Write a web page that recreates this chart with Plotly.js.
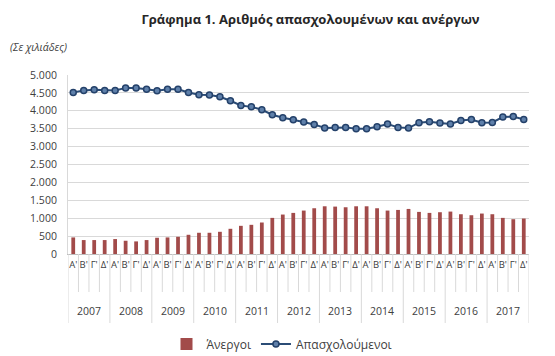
<!DOCTYPE html>
<html>
<head>
<meta charset="utf-8">
<script src="https://cdn.plot.ly/plotly-3.0.1.min.js"></script>
<style>html,body{margin:0;padding:0;background:#fff;}#chart{width:555px;height:356px;}</style>
</head>
<body>
<div id="chart"></div>
<script>
const years = ['2007','2008','2009','2010','2011','2012','2013','2014','2015','2016','2017'];
const quarters = ["Α'","Β'","Γ'","Δ'"];
const employed = [
  4510,4570,4590,4570, 4570,4640,4640,4600, 4560,4600,4600,4510,
  4450,4440,4390,4280, 4150,4110,4030,3890, 3806,3750,3685,3620,
  3519,3537,3537,3500, 3500,3556,3630,3537, 3519,3667,3694,3657,
  3630,3731,3759,3667, 3676,3824,3843,3759
];
const unemployed = [
  463,389,389,389, 417,370,352,389, 454,463,481,537,
  593,593,620,704, 787,815,880,1009, 1102,1148,1213,1278,
  1333,1324,1306,1333, 1333,1278,1213,1231, 1259,1176,1148,1167,
  1185,1111,1083,1130, 1111,1009,972,991
];
const yTicks = [0,500,1000,1500,2000,2500,3000,3500,4000,4500,5000];

// Derived positions (index along the time axis)
const n = years.length * quarters.length;
const xIdx = [], qLabels = [];
years.forEach(() => quarters.forEach(q => { xIdx.push(xIdx.length); qLabels.push(q); }));

const font = "Open Sans, Noto Sans, sans-serif";
const plotH = 356 - 75 - 102;

// boundary ticks and year dividers
const shapes = [];
for (let k = 0; k <= n; k++) {
  const isYear = k % quarters.length === 0;
  shapes.push({
    type: 'line', xref: 'x', yref: 'paper',
    x0: k - 0.5, x1: k - 0.5, y0: 0, y1: -(isYear ? 69 : 38) / plotH,
    line: {color: '#D9D9D9', width: 1}
  });
}
const annotations = years.map((y, i) => ({
  text: y, xref: 'x', yref: 'paper',
  x: i * quarters.length + (quarters.length - 1) / 2, y: -(311 - 254) / plotH,
  xanchor: 'center', yanchor: 'middle', showarrow: false,
  font: {family: font, size: 10.5, color: '#404040'}
}));
annotations.push({
  text: '<i>(Σε χιλιάδες)</i>', xref: 'paper', yref: 'paper',
  x: -60/461, xanchor: 'left', y: 1 + (75 - 47) / plotH, yanchor: 'middle',
  showarrow: false, font: {family: font, size: 10.5, color: '#404040'}
});

const traces = [
  {
    type: 'bar', name: 'Άνεργοι', x: xIdx, y: unemployed,
    marker: {color: '#A24B4A'}, width: 0.36
  },
  {
    type: 'scatter', mode: 'lines+markers', name: 'Απασχολούμενοι', x: xIdx, y: employed,
    line: {color: '#2B4C76', width: 2},
    marker: {symbol: 'circle', size: 6, color: '#5F80AA', line: {color: '#24416A', width: 1.5}}
  }
];

const layout = {
  width: 555, height: 356,
  margin: {l: 68, r: 26, t: 75, b: 102},
  paper_bgcolor: '#fff', plot_bgcolor: '#fff',
  separators: ',.',
  font: {family: font, size: 10, color: '#404040'},
  title: {
    text: '<b>Γράφημα 1. Αριθμός απασχολουμένων και ανέργων</b>',
    font: {family: font, size: 13, color: '#262626'},
    x: 292/555, xanchor: 'center', y: 1 - 19/356, yanchor: 'middle', xref: 'paper', yref: 'container'
  },
  showlegend: true,
  legend: {
    orientation: 'h', xref: 'container', yref: 'container',
    x: 282/555, xanchor: 'center', y: 1 - 344/356, yanchor: 'middle',
    font: {family: font, size: 12, color: '#404040'}, traceorder: 'normal'
  },
  xaxis: {
    range: [-0.5, n - 0.5], automargin: false,
    showgrid: false, zeroline: false,
    showline: true, linecolor: '#BFBFBF', linewidth: 1,
    tickmode: 'array', tickvals: xIdx, ticktext: qLabels,
    ticks: '', tickangle: 0, ticklabelstandoff: 2,
    tickfont: {family: font, size: 9.5, color: '#404040'}
  },
  yaxis: {
    range: [0, 5000], automargin: false,
    tickmode: 'array', tickvals: yTicks, tickformat: ',',
    showgrid: true, gridcolor: '#D9D9D9', gridwidth: 1,
    zeroline: false,
    showline: true, linecolor: '#D9D9D9', linewidth: 1,
    ticks: '', tickfont: {family: font, size: 10.5, color: '#404040'},
    ticklabelstandoff: 8
  },
  shapes: shapes,
  annotations: annotations
};

Plotly.newPlot('chart', traces, layout, {displayModeBar: false, staticPlot: true});
</script>
</body>
</html>
